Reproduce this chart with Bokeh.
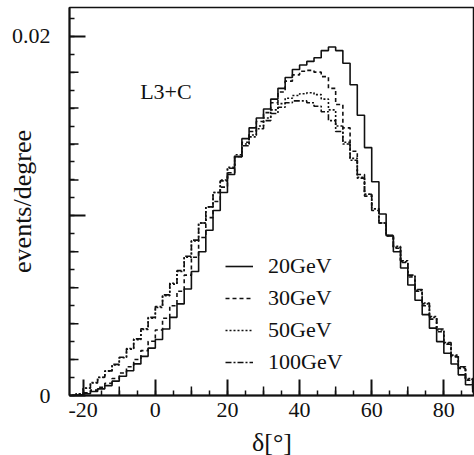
import math
from bokeh.plotting import figure
from bokeh.models import FixedTicker, Label, Legend, LegendItem, Range1d
from bokeh.embed import file_html
from bokeh.resources import INLINE

# ---- data (2-degree bins, centres) ----
bin_centers = list(range(-23, 90, 2))

ev_20 = [0, 0.00002, 0.00010, 0.00022, 0.00037, 0.00055, 0.00080, 0.00107, 0.00138, 0.00176,
         0.00218, 0.00264, 0.00312, 0.00370, 0.00435, 0.00510, 0.00593, 0.00690, 0.00800, 0.00920,
         0.01030, 0.01130, 0.01230, 0.01330, 0.01430, 0.01490, 0.01545, 0.01595, 0.01650, 0.01710,
         0.01770, 0.01815, 0.01840, 0.01860, 0.01880, 0.01920, 0.01940, 0.01920, 0.01850, 0.01730,
         0.01560, 0.01380, 0.01190, 0.01010, 0.00890, 0.00800, 0.00710, 0.00615, 0.00530, 0.00450,
         0.00375, 0.00300, 0.00235, 0.00175, 0.00115, 0.00060, 0.00020]

ev_30 = [0, 0.00004, 0.00015, 0.00030, 0.00046, 0.00068, 0.00095, 0.00125, 0.00160, 0.00200,
         0.00250, 0.00302, 0.00365, 0.00430, 0.00500, 0.00580, 0.00670, 0.00770, 0.00880, 0.00990,
         0.01080, 0.01160, 0.01240, 0.01330, 0.01410, 0.01470, 0.01525, 0.01575, 0.01630, 0.01690,
         0.01750, 0.01785, 0.01805, 0.01810, 0.01800, 0.01775, 0.01710, 0.01620, 0.01490, 0.01360,
         0.01230, 0.01110, 0.01030, 0.00960, 0.00890, 0.00820, 0.00740, 0.00660, 0.00580, 0.00500,
         0.00425, 0.00355, 0.00285, 0.00215, 0.00150, 0.00085, 0.00035]

ev_50 = [0, 0.00008, 0.00040, 0.00070, 0.00100, 0.00135, 0.00170, 0.00210, 0.00258, 0.00310,
         0.00368, 0.00430, 0.00490, 0.00555, 0.00620, 0.00690, 0.00770, 0.00860, 0.00960, 0.01050,
         0.01130, 0.01200, 0.01270, 0.01340, 0.01400, 0.01450, 0.01500, 0.01545, 0.01590, 0.01625,
         0.01655, 0.01670, 0.01680, 0.01685, 0.01675, 0.01650, 0.01590, 0.01500, 0.01410, 0.01320,
         0.01215, 0.01120, 0.01040, 0.00960, 0.00890, 0.00825, 0.00745, 0.00665, 0.00585, 0.00510,
         0.00435, 0.00365, 0.00290, 0.00220, 0.00155, 0.00090, 0.00040]

ev_100 = [0, 0.00010, 0.00042, 0.00072, 0.00102, 0.00137, 0.00173, 0.00213, 0.00262, 0.00315,
          0.00372, 0.00435, 0.00495, 0.00560, 0.00625, 0.00695, 0.00775, 0.00865, 0.00960, 0.01050,
          0.01130, 0.01195, 0.01265, 0.01330, 0.01390, 0.01440, 0.01485, 0.01530, 0.01570, 0.01605,
          0.01630, 0.01640, 0.01640, 0.01630, 0.01610, 0.01580, 0.01530, 0.01470, 0.01400, 0.01310,
          0.01210, 0.01120, 0.01040, 0.00960, 0.00890, 0.00830, 0.00750, 0.00670, 0.00590, 0.00515,
          0.00440, 0.00370, 0.00295, 0.00225, 0.00160, 0.00095, 0.00045]

series_labels = ["20GeV", "30GeV", "50GeV", "100GeV"]
series_values = [ev_20, ev_30, ev_50, ev_100]
series_dash = ["solid", "4 3", "2 2", "6 2 2 2"]

x_major = [-20, 0, 20, 40, 60, 80]
x_mid = [-10, 10, 30, 50, 70]
x_minor = list(range(-20, 90, 5))
y_major = [0, 0.01, 0.02]
y_mid = [0.002, 0.004, 0.006, 0.008, 0.012, 0.014, 0.016, 0.018]
y_minor = [k * 0.001 for k in range(0, 22)]

X_START, X_END = -23.8, 88.5
Y_START, Y_END = 0.0, 0.0216

FONT = "Liberation Serif"
INK = "#111111"

p = figure(frame_width=405, frame_height=388,
           x_range=Range1d(X_START, X_END), y_range=Range1d(Y_START, Y_END),
           output_backend="svg", toolbar_location=None,
           min_border_left=69, min_border_right=0, min_border_top=7, min_border_bottom=0)
p.xgrid.visible = False
p.ygrid.visible = False
p.outline_line_color = INK
p.outline_line_width = 1.5
p.background_fill_color = "white"
p.border_fill_color = "white"

xa = p.xaxis[0]
xa.ticker = FixedTicker(ticks=x_major, minor_ticks=x_minor)
xa.major_label_overrides = {v: str(v) for v in x_major}
xa.axis_label = "δ[°]"
ya = p.yaxis[0]
ya.ticker = FixedTicker(ticks=y_major, minor_ticks=y_minor)
ya.major_label_overrides = {0: "0", 0.01: "", 0.02: "0.02"}
ya.axis_label = "events/degree"

for ax in (xa, ya):
    ax.axis_line_color = INK
    ax.axis_line_width = 2
    ax.major_tick_line_color = INK
    ax.minor_tick_line_color = INK
    ax.major_tick_line_width = 2
    ax.minor_tick_line_width = 1.5
    ax.major_tick_in = 16
    ax.major_tick_out = 0
    ax.minor_tick_in = 5
    ax.minor_tick_out = 0
    ax.major_label_text_font = FONT
    ax.major_label_text_font_size = "22px"
    ax.major_label_text_color = INK
    ax.axis_label_text_font = FONT
    ax.axis_label_text_font_size = "26px"
    ax.axis_label_text_font_style = "normal"
    ax.axis_label_text_color = INK
xa.major_label_standoff = 7
xa.axis_label_standoff = 8
ya.major_label_standoff = 19
ya.axis_label_standoff = -28

# medium-length ticks
p.ray(x=x_mid, y=[Y_START] * len(x_mid), length=9, angle=math.pi / 2,
      length_units="screen", line_color=INK, line_width=1.5)
p.ray(x=[X_START] * len(y_mid), y=y_mid, length=9, angle=0,
      length_units="screen", line_color=INK, line_width=1.5)

items = []
for lab, vals, dash in zip(series_labels, series_values, series_dash):
    r = p.step(x=bin_centers, y=vals, mode="center", line_color=INK,
               line_width=1.6, line_dash=dash)
    items.append(LegendItem(label=lab, renderers=[r]))

legend = Legend(items=items, location=(156, 17), orientation="vertical",
                border_line_color=None, background_fill_alpha=0,
                label_text_font=FONT, label_text_font_size="22px", label_text_color=INK,
                glyph_width=28, glyph_height=32, label_height=32, label_standoff=15,
                spacing=0, padding=0, margin=0)
p.add_layout(legend, "center")

p.add_layout(Label(x=-4.2, y=0.0169, text="L3+C", text_font=FONT,
                   text_font_size="22px", text_color=INK, text_baseline="alphabetic"))

open("out.html", "w").write(file_html(p, INLINE))
